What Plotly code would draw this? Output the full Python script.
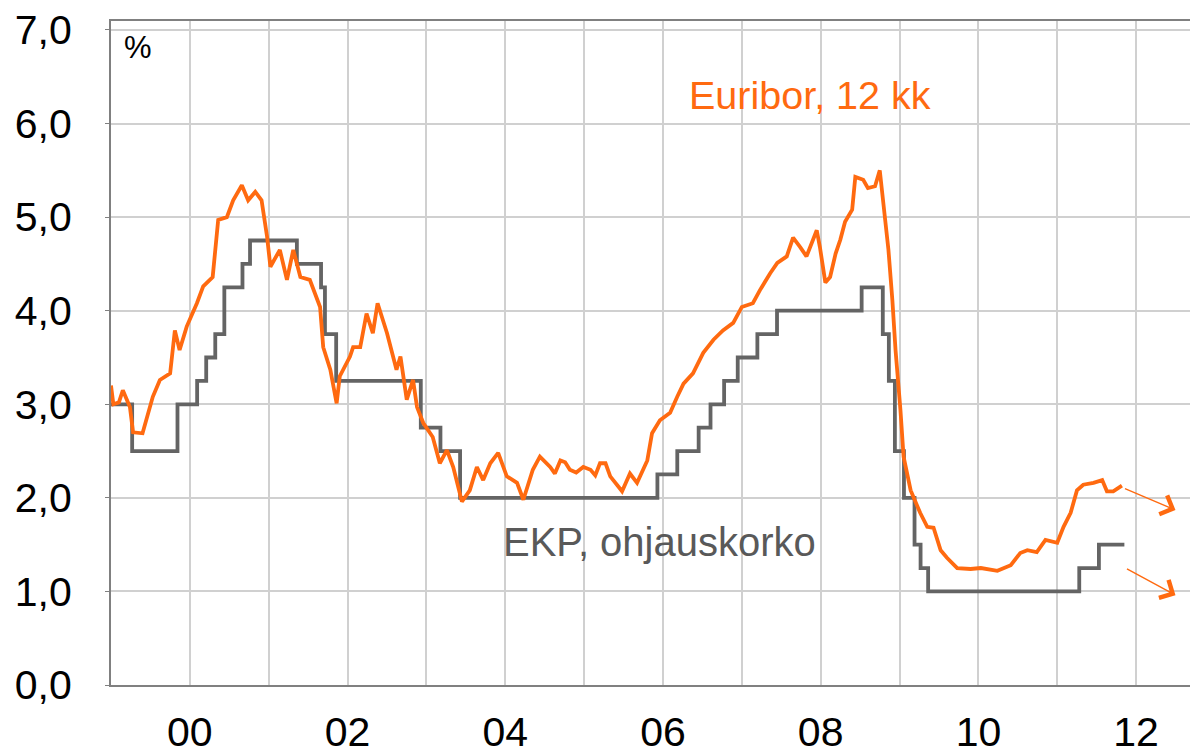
import pandas as pd
import plotly.graph_objects as go

# ECB main refinancing rate (EKP, ohjauskorko): change dates and new levels
ecb_dates = ["1999-01-01", "1999-04-09", "1999-11-05", "2000-02-04", "2000-03-17",
             "2000-04-28", "2000-06-09", "2000-09-01", "2000-10-06", "2001-05-11",
             "2001-08-31", "2001-09-18", "2001-11-09", "2002-12-06", "2003-03-07",
             "2003-06-06", "2005-12-06", "2006-03-08", "2006-06-15", "2006-08-09",
             "2006-10-11", "2006-12-13", "2007-03-14", "2007-06-13", "2008-07-09",
             "2008-10-15", "2008-11-12", "2008-12-10", "2009-01-21", "2009-03-11",
             "2009-04-08", "2009-05-13", "2011-04-13", "2011-07-13", "2011-11-08"]
ecb_rate = [3.0, 2.5, 3.0, 3.25, 3.5,
            3.75, 4.25, 4.5, 4.75, 4.5,
            4.25, 3.75, 3.25, 2.75, 2.5,
            2.0, 2.25, 2.5, 2.75, 3.0,
            3.25, 3.5, 3.75, 4.0, 4.25,
            3.75, 3.25, 2.5, 2.0, 1.5,
            1.25, 1.0, 1.25, 1.5, 1.5]

# Euribor 12 kk (decimal year, %)
euribor_year = [1999.00, 1999.03, 1999.10, 1999.15, 1999.24, 1999.28, 1999.40, 1999.53,
                1999.62, 1999.75, 1999.81, 1999.87, 1999.96, 2000.09, 2000.17, 2000.29,
                2000.36, 2000.47, 2000.55, 2000.66, 2000.74, 2000.83, 2000.91, 2000.98,
                2001.02, 2001.14, 2001.23, 2001.31, 2001.40, 2001.52, 2001.65, 2001.69,
                2001.78, 2001.86, 2001.90, 2002.03, 2002.07, 2002.16, 2002.24, 2002.32,
                2002.38, 2002.50, 2002.62, 2002.67, 2002.75, 2002.83, 2002.88, 2002.96,
                2003.08, 2003.17, 2003.26, 2003.34, 2003.45, 2003.55, 2003.64, 2003.72,
                2003.81, 2003.91, 2004.02, 2004.15, 2004.23, 2004.35, 2004.44, 2004.57,
                2004.63, 2004.70, 2004.76, 2004.82, 2004.90, 2004.99, 2005.08, 2005.14,
                2005.20, 2005.27, 2005.33, 2005.48, 2005.58, 2005.67,
                2005.80, 2005.86, 2005.96, 2006.09, 2006.18, 2006.26, 2006.38, 2006.51,
                2006.64, 2006.76, 2006.89, 2007.00, 2007.14, 2007.23, 2007.36, 2007.45,
                2007.57, 2007.65, 2007.74, 2007.82, 2007.95, 2007.99, 2008.06, 2008.12,
                2008.19, 2008.25, 2008.31, 2008.40, 2008.44, 2008.54, 2008.60, 2008.69,
                2008.75, 2008.82, 2008.86, 2008.91, 2008.95, 2009.01, 2009.05, 2009.14,
                2009.26, 2009.35, 2009.43, 2009.52, 2009.60, 2009.73, 2009.90, 2010.03,
                2010.24, 2010.41, 2010.53, 2010.62, 2010.74, 2010.85, 2011.00, 2011.08,
                2011.17, 2011.25, 2011.33, 2011.46, 2011.57, 2011.63, 2011.71, 2011.82]
euribor_value = [3.20, 3.00, 3.02, 3.15, 2.97, 2.70, 2.69, 3.08,
                 3.26, 3.33, 3.79, 3.58, 3.83, 4.08, 4.26, 4.36,
                 4.97, 5.00, 5.18, 5.34, 5.18, 5.27, 5.18, 4.79,
                 4.47, 4.65, 4.33, 4.65, 4.36, 4.33, 4.04, 3.61,
                 3.37, 3.01, 3.30, 3.51, 3.61, 3.61, 3.97, 3.76,
                 4.08, 3.76, 3.37, 3.51, 3.05, 3.26, 2.97, 2.80,
                 2.65, 2.37, 2.51, 2.33, 1.96, 2.08, 2.33, 2.19,
                 2.37, 2.48, 2.23, 2.16, 1.98, 2.30, 2.44, 2.33,
                 2.26, 2.40, 2.38, 2.30, 2.27, 2.33, 2.30, 2.24,
                 2.37, 2.37, 2.23, 2.07, 2.26, 2.16,
                 2.40, 2.69, 2.83, 2.91, 3.08, 3.22, 3.33, 3.55,
                 3.69, 3.79, 3.87, 4.04, 4.08, 4.22, 4.40, 4.51,
                 4.58, 4.78, 4.68, 4.58, 4.86, 4.68, 4.30, 4.36,
                 4.61, 4.76, 4.95, 5.08, 5.43, 5.40, 5.31, 5.33,
                 5.50, 5.00, 4.65, 4.11, 3.58, 2.94, 2.44, 2.08,
                 1.84, 1.69, 1.68, 1.44, 1.36, 1.25, 1.24, 1.25,
                 1.22, 1.28, 1.41, 1.44, 1.42, 1.55, 1.52, 1.69,
                 1.84, 2.08, 2.14, 2.16, 2.19, 2.07, 2.07, 2.13]

label_euribor = "Euribor, 12 kk"
label_ecb = "EKP, ohjauskorko"
unit_label = "%"

ORANGE = "#ff6a10"
GRAY = "#646464"
FONT = "Arial, Liberation Sans, sans-serif"


def dec_to_date(y):
    base = pd.Timestamp(year=int(y), month=1, day=1)
    return base + pd.Timedelta(days=(y - int(y)) * 365.25)


euribor_dates = [dec_to_date(y) for y in euribor_year]

fig = go.Figure()
fig.add_trace(go.Scatter(x=pd.to_datetime(ecb_dates), y=ecb_rate, mode="lines",
                         line=dict(color=GRAY, width=3.8, shape="hv"),
                         name=label_ecb, showlegend=False))
fig.add_trace(go.Scatter(x=euribor_dates, y=euribor_value, mode="lines",
                         line=dict(color=ORANGE, width=3.8),
                         name=label_euribor, showlegend=False))

fig.add_annotation(text=label_euribor, xref="paper", yref="paper", x=0.643, y=0.889,
                   xanchor="center", yanchor="middle", showarrow=False,
                   font=dict(family=FONT, size=39.5, color=ORANGE))
fig.add_annotation(text=label_ecb, xref="paper", yref="paper", x=0.505, y=0.215,
                   xanchor="center", yanchor="middle", showarrow=False,
                   font=dict(family=FONT, size=40, color="#595959"))
fig.add_annotation(text=unit_label, xref="paper", yref="paper", x=0.025, y=0.960,
                   xanchor="center", yanchor="middle", showarrow=False,
                   font=dict(family=FONT, size=31, color="black"))

# continuation arrows
fig.add_annotation(x=dec_to_date(2012.50), y=1.87, xref="x", yref="y", text="",
                   showarrow=True, ax=-52, ay=-22, arrowhead=4, arrowsize=2.8,
                   arrowwidth=1.4, arrowcolor=ORANGE)
fig.add_annotation(x=dec_to_date(2012.50), y=0.96, xref="x", yref="y", text="",
                   showarrow=True, ax=-50, ay=-27, arrowhead=4, arrowsize=2.8,
                   arrowwidth=1.4, arrowcolor=ORANGE)

# the page body has an 8px margin, so the figure is sized to fit the window
fig.update_layout(
    width=1190, height=747,
    margin=dict(l=103, r=0, t=13, b=70, autoexpand=False),
    paper_bgcolor="white", plot_bgcolor="white",
    separators=", ",
    font=dict(family=FONT, size=41, color="black"),
)
fig.update_xaxes(
    type="date", range=[pd.Timestamp("1999-01-01"), pd.Timestamp("2012-10-14")],
    tick0="2000-01-01", dtick="M24", tickformat="%y",
    showgrid=True, gridcolor="#d0d0d0", gridwidth=1.5,
    minor=dict(dtick="M12", tick0="1999-01-01", showgrid=True,
               gridcolor="#d0d0d0", gridwidth=1.5),
    showline=True, linecolor="#808080", linewidth=2, mirror=True,
    ticks="", ticklabelstandoff=10, automargin=False, ticklabeloverflow="allow",
    tickfont=dict(family=FONT, size=41, color="black"),
)
fig.update_yaxes(
    range=[0, 7.096], dtick=1, tick0=0, tickformat=".1f",
    showgrid=True, gridcolor="#d0d0d0", gridwidth=1.5, zeroline=False,
    showline=True, linecolor="#808080", linewidth=2,
    ticks="outside", ticklen=4, tickcolor="#808080", ticklabelstandoff=25,
    automargin=False, ticklabeloverflow="allow",
    tickfont=dict(family=FONT, size=41, color="black"),
)

fig.write_html("out.html")
